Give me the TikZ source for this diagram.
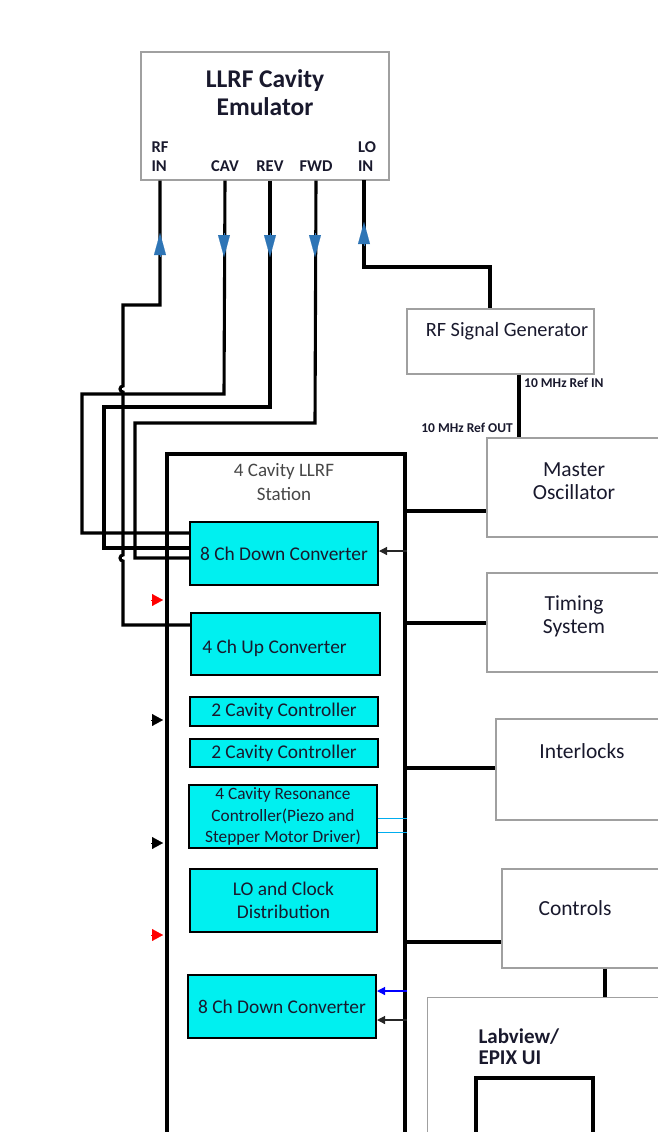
\documentclass[tikz,border=0pt]{standalone}
\usepackage{fontspec}
\setmainfont{Carlito}
\usetikzlibrary{arrows.meta}
\definecolor{modcyan}{RGB}{0,240,240}
\definecolor{tipblue}{RGB}{46,117,182}
\definecolor{boxgray}{RGB}{160,160,160}
\definecolor{ink}{RGB}{25,25,45}
\begin{document}
\begin{tikzpicture}[x=1pt,y=1pt,
  box/.style={draw=boxgray,line width=1.2pt,inner sep=0pt},
  module/.style={draw=black,fill=modcyan,line width=2pt,inner sep=0pt,align=center,text=ink,font=\fontsize{19.4}{23}\selectfont},
  lbl/.style={align=center,text=ink,font=\fontsize{21.5}{23}\selectfont},
  port/.style={align=left,text=ink,inner sep=0pt,font=\bfseries\fontsize{16.5}{19}\selectfont},
  wire/.style={line width=3.1pt},
  bus/.style={line width=4.2pt},
  flowtip/.style={-{Triangle[width=12pt,length=22pt]},tipblue,line width=0.1pt},
  sidetip/.style={-{Triangle[width=12pt,length=11pt]},line width=0.1pt},
  feed/.style={-{Triangle[width=8pt,length=8pt]},line width=1.2pt}]
\useasboundingbox (0,0) rectangle (658,-1132);

% emulator and its ports
\node[box,minimum width=248pt,minimum height=128pt] (emu) at (265,-116) {};
\node[text=ink,align=center,font=\bfseries\fontsize{25.5}{28}\selectfont] (emutitle) at (265,-93) {LLRF Cavity\\Emulator};
\node[port] (rfin) at (160,-157) {RF\\IN};
\node[port] (cav) at (225,-166) {CAV};
\node[port] (rev) at (270,-166) {REV};
\node[port] (fwd) at (316,-166) {FWD};
\node[port] (loin) at (367,-157) {LO\\IN};

% right hand boxes
\node[box,minimum width=187pt,minimum height=65pt] (rfgen) at (500.5,-341.5) {};
\node[lbl,font=\fontsize{20.3}{22}\selectfont] (rfgenlbl) at (507,-331) {RF Signal Generator};
\node[box,minimum width=174pt,minimum height=99pt] (mo) at (574,-487.5) {};
\node[lbl] (molbl) at (574,-481) {Master\\Oscillator};
\node[box,minimum width=174pt,minimum height=99pt] (timing) at (574,-622.5) {};
\node[lbl] (timinglbl) at (574,-616) {Timing\\System};
\node[box,minimum width=165pt,minimum height=101pt] (ilk) at (578.5,-769.5) {};
\node[lbl] (ilklbl) at (582,-751) {Interlocks};
\node[box,minimum width=159pt,minimum height=99pt] (ctrl) at (581.5,-918.5) {};
\node[lbl] (ctrllbl) at (575,-908) {Controls};
\node[box,minimum width=273pt,minimum height=163pt,anchor=north west] (labview) at (427,-997) {};
\node[lbl,align=left,anchor=north west,font=\bfseries\fontsize{21}{21}\selectfont] (labviewlbl) at (475,-1025) {Labview/\\EPIX UI};
\draw[bus] (476,-1140) -- (476,-1078) -- (593,-1078) -- (593,-1140);

% station and modules
\node[draw,bus,minimum width=238pt,minimum height=720pt,anchor=north west,inner sep=0pt] (station) at (165,-452) {};
\node[align=center,text=black!72,font=\fontsize{19}{24}\selectfont] (stationlbl) at (284,-482) {4 Cavity LLRF\\Station};
\node[module,minimum width=188pt,minimum height=63pt] (dcA) at (284,-553.5) {8 Ch Down Converter};
\node[module,minimum width=189pt,minimum height=62pt,text height=22pt] (uc) at (285.5,-644) {4 Ch Up Converter\hspace*{22pt}};
\node[module,minimum width=188pt,minimum height=29pt] (ccA) at (284,-711.5) {2 Cavity Controller};
\node[module,minimum width=188pt,minimum height=28pt] (ccB) at (284,-753) {2 Cavity Controller};
\node[module,minimum width=188pt,minimum height=63pt,font=\fontsize{17.3}{21.5}\selectfont] (rc) at (283,-816.5) {4 Cavity Resonance\\Controller(Piezo and\\Stepper Motor Driver)};
\node[module,minimum width=187pt,minimum height=63pt,font=\fontsize{19.4}{23}\selectfont] (lo) at (283.5,-900.5) {LO and Clock\\Distribution};
\node[module,minimum width=188pt,minimum height=63pt] (dcB) at (282,-1006.5) {8 Ch Down Converter};

% emulator wiring
\draw[wire] (uc.west |- 0,-625) -- (123,-625) -- (123,-561)
  arc[start angle=270,end angle=90,radius=3] -- (123,-392)
  arc[start angle=270,end angle=90,radius=3] -- (123,-305) -- (160,-305) -- (rfin |- emu.south);
\draw[wire] (cav |- emu.south) -- (224,-394) -- (82,-394) -- (82,-533) -- (dcA.west |- 0,-533);
\draw[wire] (rev |- emu.south) -- (270,-407) -- (104,-407) -- (104,-548) -- (dcA.west |- 0,-548);
\draw[wire] (fwd |- emu.south) -- (315,-423) -- (135,-423) -- (135,-558) -- (dcA.west |- 0,-558);
\draw[wire] (364,-180) -- (364,-267) -- (490,-267) -- (rfgen.north -| 490,0);
\draw[flowtip] (160,-257) -- (160,-233);
\draw[flowtip] (224,-233) -- (224,-257);
\draw[flowtip] (270,-233) -- (270,-257);
\draw[flowtip] (315,-233) -- (315,-257);
\draw[flowtip] (364,-246) -- (364,-222);

% reference clock
\draw[wire] (rfgen.south -| 519,0) -- (mo.north -| 519,0);
\node[anchor=west,inner sep=0pt,text=ink,font=\bfseries\fontsize{13.5}{14}\selectfont] (refin) at (524,-383) {10 MHz Ref IN};
\node[anchor=east,inner sep=0pt,text=ink,font=\bfseries\fontsize{13.5}{14}\selectfont] (refout) at (513,-428) {10 MHz Ref OUT};

% station to the outside
\draw[wire] (station.east |- 0,-511) -- (mo.west |- 0,-511);
\draw[wire] (station.east |- 0,-623) -- (timing.west |- 0,-623);
\draw[wire] (station.east |- 0,-768) -- (ilk.west |- 0,-768);
\draw[wire] (station.east |- 0,-942) -- (ctrl.west |- 0,-942);
\draw[wire] (ctrl.south -| 605,0) -- (labview.north -| 605,0);

% feeds into the modules
\draw[feed,black!85] (station.east |- 0,-551) -- (dcA.east |- 0,-551);
\draw[feed,blue] (station.east |- 0,-991) -- (dcB.east |- 0,-991);
\draw[feed,black!85] (station.east |- 0,-1020) -- (dcB.east |- 0,-1020);
\draw[cyan,line width=1pt] (rc.east |- 0,-818) -- (station.east |- 0,-818);
\draw[cyan,line width=1pt] (rc.east |- 0,-832) -- (station.east |- 0,-832);
\foreach \y/\c in {600/red,720/black,843/black,935/red}
  \draw[sidetip,\c] (151,-\y) -- (163,-\y);
\end{tikzpicture}
\end{document}
